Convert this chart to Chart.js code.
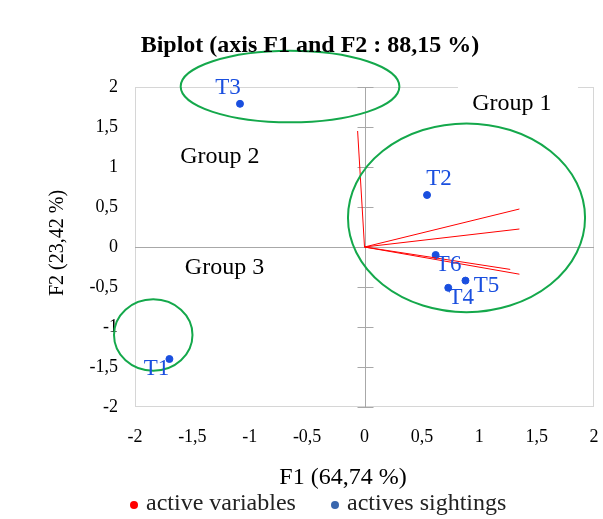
<!DOCTYPE html>
<html>
<head>
<meta charset="utf-8">
<script src="https://cdn.jsdelivr.net/npm/chart.js@4.4.0/dist/chart.umd.min.js"></script>
<style>
  html, body { margin: 0; padding: 0; background: #fff; }
  #wrap { width: 603px; height: 519px; }
</style>
</head>
<body>
<div id="wrap"><canvas id="biplot"></canvas></div>
<script>
// observations (actives sightings)
const obsLabels = ['T1', 'T2', 'T3', 'T4', 'T5', 'T6'];
const obsF1 = [-1.70, 0.545, -1.085, 0.73, 0.88, 0.62];
const obsF2 = [-1.40, 0.65, 1.79, -0.51, -0.42, -0.10];

// variable vectors (active variables)
const varF1 = [-0.06, 1.35, 1.35, 1.35, 1.27];
const varF2 = [1.45, 0.475, 0.225, -0.34, -0.28];

// groups : label anchor + ellipse (centre, radii) in axis units
const groupNames = ['Group 1', 'Group 2', 'Group 3'];
const groupF1 = [1.285, -1.26, -1.22];
const groupF2 = [1.79, 1.125, -0.26];
const ellCx = [0.889, -0.649, -1.841];
const ellCy = [0.365, 2.006, -1.10];
const ellRx = [1.033, 0.953, 0.342];
const ellRy = [1.18, 0.448, 0.446];

const axisTicks = [-2, -1.5, -1, -0.5, 0, 0.5, 1, 1.5, 2];

const SERIF = '"Liberation Serif", "Times New Roman", serif';
const BLUE = '#1a4fdf';
const RED = '#ff0000';
const GREEN = '#14a84b';

// where each point label sits relative to its point (px)
const labelOffset = {
    T1: [-13, 10], T2: [12, -16], T3: [-12, -16],
    T4: [13, 10], T5: [21, 5], T6: [13, 10]
};

function fmt(v) {
    return String(v).replace('.', ',');
}

let datasets = [];
for (let i = 0; i < varF1.length; i++) {
    datasets.push({
        label: 'active variables',
        data: [{ x: 0, y: 0 }, { x: varF1[i], y: varF2[i] }],
        showLine: true,
        borderColor: RED,
        borderWidth: 1,
        pointRadius: 0
    });
}
datasets.push({
    label: 'actives sightings',
    data: obsF1.map((x, i) => ({ x: x, y: obsF2[i], name: obsLabels[i] })),
    backgroundColor: BLUE,
    borderColor: BLUE,
    pointRadius: 3.5
});

const decor = {
    id: 'decor',
    beforeDatasetsDraw(chart) {
        const ctx = chart.ctx;
        const a = chart.chartArea;
        const xs = chart.scales.x, ys = chart.scales.y;
        ctx.save();
        // frame
        ctx.strokeStyle = '#d6d6d6';
        ctx.lineWidth = 1;
        ctx.strokeRect(a.left + 0.5, a.top + 0.5, a.right - a.left - 1, a.bottom - a.top - 1);
        // axes through origin
        const x0 = Math.round(xs.getPixelForValue(0)) + 0.5;
        const y0 = Math.round(ys.getPixelForValue(0)) + 0.5;
        ctx.strokeStyle = '#a8a8a8';
        ctx.beginPath();
        ctx.moveTo(a.left, y0); ctx.lineTo(a.right, y0);
        ctx.moveTo(x0, a.top); ctx.lineTo(x0, a.bottom);
        axisTicks.forEach(t => {
            const py = Math.round(ys.getPixelForValue(t)) + 0.5;
            ctx.moveTo(x0 - 8, py); ctx.lineTo(x0 + 8, py);
        });
        ctx.stroke();
        ctx.restore();
    },
    afterDatasetsDraw(chart) {
        const ctx = chart.ctx;
        const xs = chart.scales.x, ys = chart.scales.y;
        ctx.save();
        // group labels
        ctx.font = '24px ' + SERIF;
        ctx.textAlign = 'center';
        ctx.textBaseline = 'middle';
        groupNames.forEach((g, i) => {
            const px = xs.getPixelForValue(groupF1[i]);
            const py = ys.getPixelForValue(groupF2[i]);
            if (i === 0) {
                ctx.fillStyle = '#fff';
                ctx.fillRect(px - 54, py - 20, 120, 34);
            }
            ctx.fillStyle = '#000';
            ctx.fillText(g, px, py);
        });
        // ellipses
        ctx.strokeStyle = GREEN;
        ctx.lineWidth = 2;
        ellCx.forEach((cx, i) => {
            const px = xs.getPixelForValue(cx);
            const py = ys.getPixelForValue(ellCy[i]);
            const rx = Math.abs(xs.getPixelForValue(cx + ellRx[i]) - px);
            const ry = Math.abs(ys.getPixelForValue(ellCy[i] + ellRy[i]) - py);
            ctx.beginPath();
            ctx.ellipse(px, py, rx, ry, 0, 0, Math.PI * 2);
            ctx.stroke();
        });
        // point labels
        ctx.font = '23px ' + SERIF;
        ctx.fillStyle = BLUE;
        const meta = chart.getDatasetMeta(chart.data.datasets.length - 1);
        meta.data.forEach((pt, i) => {
            const off = labelOffset[obsLabels[i]];
            ctx.fillText(obsLabels[i], pt.x + off[0], pt.y + off[1]);
        });

        // title, axis titles, legend
        ctx.fillStyle = '#000';
        ctx.font = 'bold 24px ' + SERIF;
        ctx.fillText('Biplot (axis F1 and F2 : 88,15 %)', 310, 46);
        ctx.font = '24px ' + SERIF;
        ctx.fillText('F1 (64,74 %)', 343, 478);
        ctx.save();
        ctx.translate(58, 243);
        ctx.rotate(-Math.PI / 2);
        ctx.font = '20px ' + SERIF;
        ctx.fillText('F2 (23,42 %)', 0, 0);
        ctx.restore();

        ctx.textAlign = 'left';
        ctx.font = '24px ' + SERIF;
        [['active variables', RED, 134], ['actives sightings', '#3a67ae', 335]].forEach(l => {
            ctx.fillStyle = l[1];
            ctx.beginPath();
            ctx.arc(l[2], 505, 4, 0, Math.PI * 2);
            ctx.fill();
            ctx.fillStyle = '#222';
            ctx.fillText(l[0], l[2] + 12, 504);
        });
        ctx.restore();
    }
};

new Chart(document.getElementById('biplot'), {
    type: 'scatter',
    data: { datasets: datasets },
    options: {
        responsive: true,
        maintainAspectRatio: false,
        animation: false,
        layout: { padding: { left: 0, right: 9, top: 87, bottom: 0 } },
        plugins: {
            legend: { display: false },
            title: { display: false },
            tooltip: { enabled: false }
        },
        scales: {
            x: {
                type: 'linear',
                min: -2, max: 2,
                afterFit(s) { s.height = 112; s.paddingLeft = 0; s.paddingRight = 0; },
                grid: { display: false },
                border: { display: false },
                afterBuildTicks(s) { s.ticks = axisTicks.map(v => ({ value: v })); },
                ticks: {
                    padding: 11,
                    color: '#000',
                    font: { family: SERIF, size: 18 },
                    callback: v => fmt(v)
                }
            },
            y: {
                type: 'linear',
                min: -2, max: 2,
                afterFit(s) { s.width = 135; s.paddingTop = 0; s.paddingBottom = 0; },
                grid: { display: false },
                border: { display: false },
                afterBuildTicks(s) { s.ticks = axisTicks.map(v => ({ value: v })); },
                ticks: {
                    padding: 9,
                    color: '#000',
                    font: { family: SERIF, size: 18 },
                    callback: v => fmt(v)
                }
            }
        }
    },
    plugins: [decor]
});
</script>
</body>
</html>
